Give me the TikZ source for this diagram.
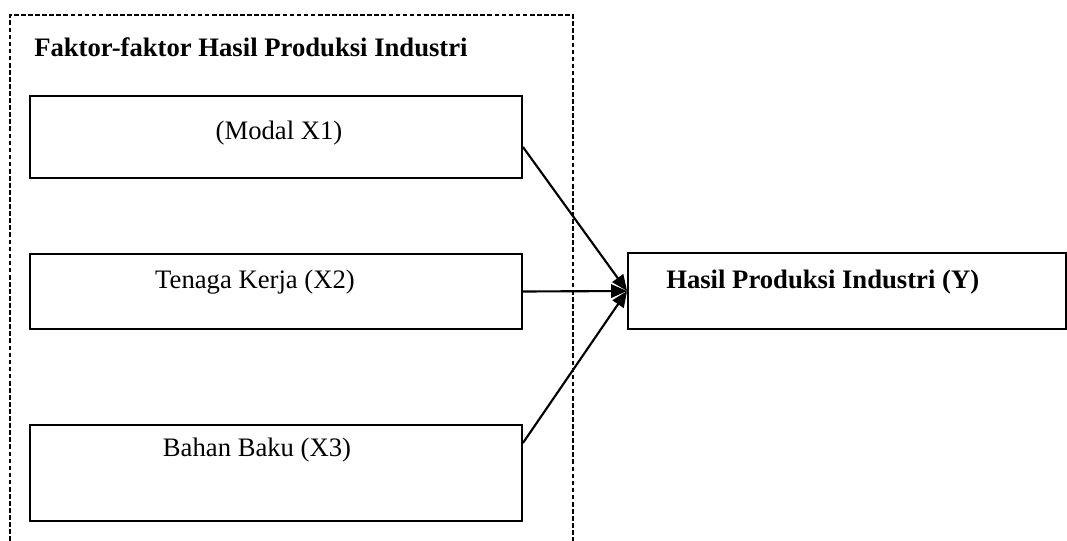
\documentclass[tikz,border=0pt]{standalone}
\usepackage{fontspec}
\setmainfont{Liberation Serif}
\usetikzlibrary{arrows.meta}
\begin{document}
\begin{tikzpicture}[x=0.75pt,y=-0.75pt,
  box/.style={draw=black,line width=1.4pt,rectangle,inner sep=0pt},
  lbl/.style={font=\fontsize{20}{24}\selectfont,inner sep=0pt,anchor=center},
  blbl/.style={lbl,font=\fontsize{20}{24}\selectfont\bfseries},
  conn/.style={line width=1.6pt,-{Triangle[length=12pt,width=10pt]}},
  frame/.style={draw=black,line width=0.8pt,dash pattern=on 3.5pt off 1.8pt}]
\useasboundingbox (0,0) rectangle (1067,541);
\draw[frame] (10,541) -- (10,15) -- (573,15) -- (573,541);
\node[blbl,anchor=west] (title) at (34,47) {Faktor-faktor Hasil Produksi Industri};
\node[box,minimum width=369pt,minimum height=61.5pt] (b1) at (276,137) {};
\node[box,minimum width=369pt,minimum height=56.25pt] (b2) at (276,291.5) {};
\node[box,minimum width=369pt,minimum height=72pt] (b3) at (276,473) {};
\node[box,minimum width=328.5pt,minimum height=57pt] (y) at (847,291) {};
\node[lbl] (t1) at (279,133) {(Modal X1)};
\node[lbl] (t2) at (255,282) {Tenaga Kerja (X2)};
\node[lbl] (t3) at (257,450) {Bahan Baku (X3)};
\node[blbl,anchor=west] (ty) at (666,282) {Hasil Produksi Industri (Y)};
\draw[conn] ([yshift=-7.5pt]b1.east) -- (y.west);
\draw[conn] (b2.east) -- (y.west);
\draw[conn] ([yshift=22.5pt]b3.east) -- (y.west);
\end{tikzpicture}
\end{document}
